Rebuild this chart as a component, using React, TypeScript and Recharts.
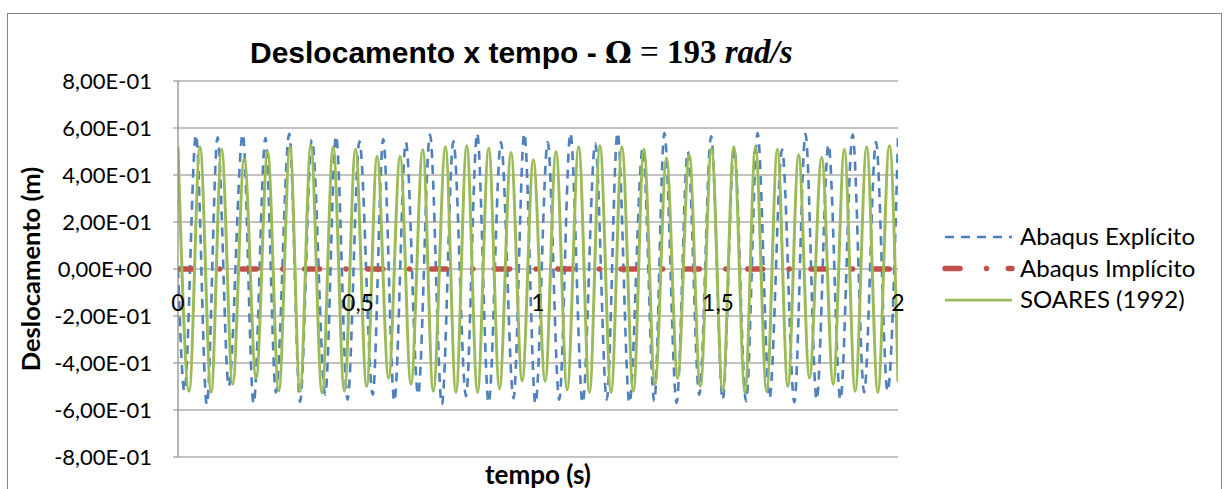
import { LineChart, Line, XAxis, YAxis, CartesianGrid } from 'recharts';

// Deslocamento x tempo, Ω = 193 rad/s — extrema of each record (t in s, u in m)
const soaresTime = [
  0, 0.031, 0.061, 0.092, 0.121, 0.152, 0.184, 0.217, 0.249, 0.28, 0.311, 0.339,
  0.369, 0.4, 0.431, 0.462, 0.493, 0.524, 0.553, 0.585, 0.617, 0.647, 0.68, 0.709,
  0.743, 0.772, 0.802, 0.832, 0.863, 0.893, 0.925, 0.956, 0.987, 1.02, 1.05, 1.081,
  1.113, 1.143, 1.172, 1.203, 1.233, 1.265, 1.294, 1.325, 1.357, 1.388, 1.42, 1.451,
  1.482, 1.513, 1.544, 1.575, 1.604, 1.635, 1.665, 1.694, 1.724, 1.754, 1.788, 1.82,
  1.851, 1.881, 1.913, 1.944, 1.976, 2.0,
];
const soaresDisp = [
  0.52, -0.52, 0.52, -0.525, 0.51, -0.49, 0.47, -0.465, 0.5, -0.52, 0.52, -0.52,
  0.527, -0.528, 0.52, -0.52, 0.51, -0.5, 0.48, -0.465, 0.48, -0.49, 0.508, -0.52,
  0.52, -0.525, 0.525, -0.525, 0.515, -0.51, 0.496, -0.476, 0.465, -0.478, 0.5, -0.514,
  0.52, -0.525, 0.525, -0.525, 0.52, -0.52, 0.51, -0.49, 0.472, -0.464, 0.486, -0.5,
  0.514, -0.52, 0.52, -0.525, 0.52, -0.52, 0.51, -0.5, 0.486, -0.464, 0.476, -0.49,
  0.508, -0.52, 0.52, -0.525, 0.525, -0.48,
];

const explicitTime = [
  0, 0.018, 0.05, 0.08, 0.11, 0.141, 0.18, 0.21, 0.243, 0.272, 0.309, 0.339,
  0.372, 0.409, 0.439, 0.471, 0.504, 0.541, 0.57, 0.601, 0.633, 0.667, 0.7, 0.733,
  0.765, 0.8, 0.831, 0.863, 0.897, 0.932, 0.962, 0.993, 1.027, 1.059, 1.09, 1.124,
  1.159, 1.191, 1.221, 1.254, 1.291, 1.323, 1.351, 1.385, 1.416, 1.448, 1.481, 1.513,
  1.545, 1.578, 1.61, 1.643, 1.678, 1.712, 1.743, 1.774, 1.807, 1.84, 1.874, 1.906,
  1.939, 1.971, 2.0,
];
const explicitDisp = [
  0, -0.52, 0.572, -0.577, 0.56, -0.5, 0.575, -0.573, 0.557, -0.525, 0.575, -0.565,
  0.55, -0.535, 0.567, -0.556, 0.543, -0.535, 0.553, -0.563, 0.54, -0.535, 0.572, -0.577,
  0.543, -0.541, 0.578, -0.57, 0.54, -0.55, 0.578, -0.573, 0.54, -0.556, 0.578, -0.57,
  0.535, -0.556, 0.581, -0.57, 0.515, -0.563, 0.578, -0.57, 0.5, -0.535, 0.565, -0.556,
  0.515, -0.563, 0.578, -0.55, 0.508, -0.567, 0.575, -0.556, 0.53, -0.556, 0.572, -0.525,
  0.54, -0.52, 0.557,
];

const implicitTime = [0, 0.5, 1, 1.5, 2];
const implicitDisp = [0, 0, 0, 0, 0];

const timeTicks = [0, 0.5, 1, 1.5, 2];
const dispTicks = [-0.8, -0.6, -0.4, -0.2, 0, 0.2, 0.4, 0.6, 0.8];

const seriesNames = ['Abaqus Explícito', 'Abaqus Implícito', 'SOARES (1992)'];

const BLUE = '#4F81BD';
const RED = '#C0504D';
const GREEN = '#9BBB59';
const GRID = '#868686';
const FONT = 'Lato, "Open Sans", sans-serif';

const BLUE_DASH = '9 7';
const RED_DASH = '15 26.5 0.1 21.7';

const toPoints = (ts: number[], vs: number[]) => ts.map((t, i) => ({ t, v: vs[i] }));

const explicitData = toPoints(explicitTime, explicitDisp);
const implicitData = toPoints(implicitTime, implicitDisp);
const soaresData = toPoints(soaresTime, soaresDisp);

// 0.8 -> "8,00E-01"
const sci = (v: number) => {
  const [m, e] = v.toExponential(2).split('e');
  const sign = e[0] === '-' ? '-' : '+';
  const exp = String(Math.abs(parseInt(e, 10))).padStart(2, '0');
  return `${m.replace('.', ',')}E${sign}${exp}`;
};

// Excel puts the category labels under the horizontal axis, which crosses at 0
const TimeTick = ({ x, payload }: any) => (
  <text x={x} y={311} textAnchor="middle" fontFamily={FONT} fontSize={23} fill="#000">
    {String(payload.value).replace('.', ',')}
  </text>
);

const legendStyles = [
  { stroke: BLUE, width: 2.5, dash: BLUE_DASH, cap: 'butt' as const },
  { stroke: RED, width: 5.5, dash: RED_DASH, cap: 'round' as const },
  { stroke: GREEN, width: 2.75, dash: undefined, cap: 'butt' as const },
];

const LegendBox = () => (
  <svg width={285} height={100} style={{ position: 'absolute', left: 940, top: 219 }}>
    {seriesNames.map((name, i) => {
      const y = 18 + i * 31.5;
      const s = legendStyles[i];
      return (
        <g key={name}>
          <line x1={5} x2={72} y1={y} y2={y} stroke={s.stroke} strokeWidth={s.width}
            strokeDasharray={s.dash} strokeLinecap={s.cap} />
          <text x={80} y={y} dy="0.35em" fontFamily={FONT} fontSize={24} fill="#000">{name}</text>
        </g>
      );
    })}
  </svg>
);

export default function App() {
  return (
    <div style={{ position: 'absolute', left: 0, top: 0, width: 1229, height: 489, background: '#fff', overflow: 'hidden' }}>
      {/* chart frame */}
      <div style={{ position: 'absolute', left: 7, top: 13, width: 1215, height: 500, border: `1.3px solid ${GRID}`, boxSizing: 'border-box' }} />

      <div style={{ position: 'absolute', left: 250, top: 34, whiteSpace: 'nowrap', color: '#000', lineHeight: '36px' }}>
        <span style={{ fontFamily: '"Liberation Sans", Arial, sans-serif', fontWeight: 'bold', fontSize: 30 }}>Deslocamento x tempo - </span>
        <span style={{ fontFamily: '"DejaVu Serif", serif', fontWeight: 'bold', fontSize: 30 }}>Ω</span>
        <span style={{ fontFamily: '"Liberation Serif", serif', fontSize: 33 }}> = </span>
        <span style={{ fontFamily: '"Liberation Serif", serif', fontWeight: 'bold', fontSize: 33 }}>193 </span>
        <span style={{ fontFamily: '"Liberation Serif", serif', fontWeight: 'bold', fontStyle: 'italic', fontSize: 33 }}>rad/s</span>
      </div>

      <div style={{ position: 'absolute', left: 30, top: 269, transform: 'translate(-50%, -50%) rotate(-90deg)', whiteSpace: 'nowrap', fontFamily: FONT, fontWeight: 'bold', fontSize: 25.5, color: '#000' }}>
        Deslocamento (m)
      </div>

      <div style={{ position: 'absolute', left: 538, top: 474, transform: 'translate(-50%, -50%)', whiteSpace: 'nowrap', fontFamily: FONT, fontWeight: 'bold', fontSize: 26, color: '#000' }}>
        tempo (s)
      </div>

      <LineChart width={1229} height={489} margin={{ top: 81, right: 331, bottom: 2, left: 8 }}
        style={{ position: 'absolute', left: 0, top: 0 }}>
        <CartesianGrid vertical={false} stroke={GRID} strokeWidth={1.2} />
        <XAxis dataKey="t" type="number" domain={[0, 2]} ticks={timeTicks} height={30}
          axisLine={false} tickLine={false} tick={<TimeTick />} allowDataOverflow />
        <YAxis type="number" domain={[-0.8, 0.8]} ticks={dispTicks} width={170}
          tickFormatter={sci} axisLine={{ stroke: GRID, strokeWidth: 1.2 }}
          tickLine={{ stroke: GRID }} tickSize={5} tickMargin={21}
          tick={{ fill: '#000', fontFamily: FONT, fontSize: 22 }} interval={0} />
        <Line data={explicitData} dataKey="v" name={seriesNames[0]} type="monotone"
          stroke={BLUE} strokeWidth={2.6} strokeDasharray={BLUE_DASH} dot={false}
          activeDot={false} isAnimationActive={false} />
        <Line data={implicitData} dataKey="v" name={seriesNames[1]} type="linear"
          stroke={RED} strokeWidth={5.5} strokeDasharray={RED_DASH} strokeLinecap="round"
          dot={false} activeDot={false} isAnimationActive={false} />
        <Line data={soaresData} dataKey="v" name={seriesNames[2]} type="monotone"
          stroke={GREEN} strokeWidth={3} dot={false} activeDot={false} isAnimationActive={false} />
      </LineChart>

      <LegendBox />
    </div>
  );
}
